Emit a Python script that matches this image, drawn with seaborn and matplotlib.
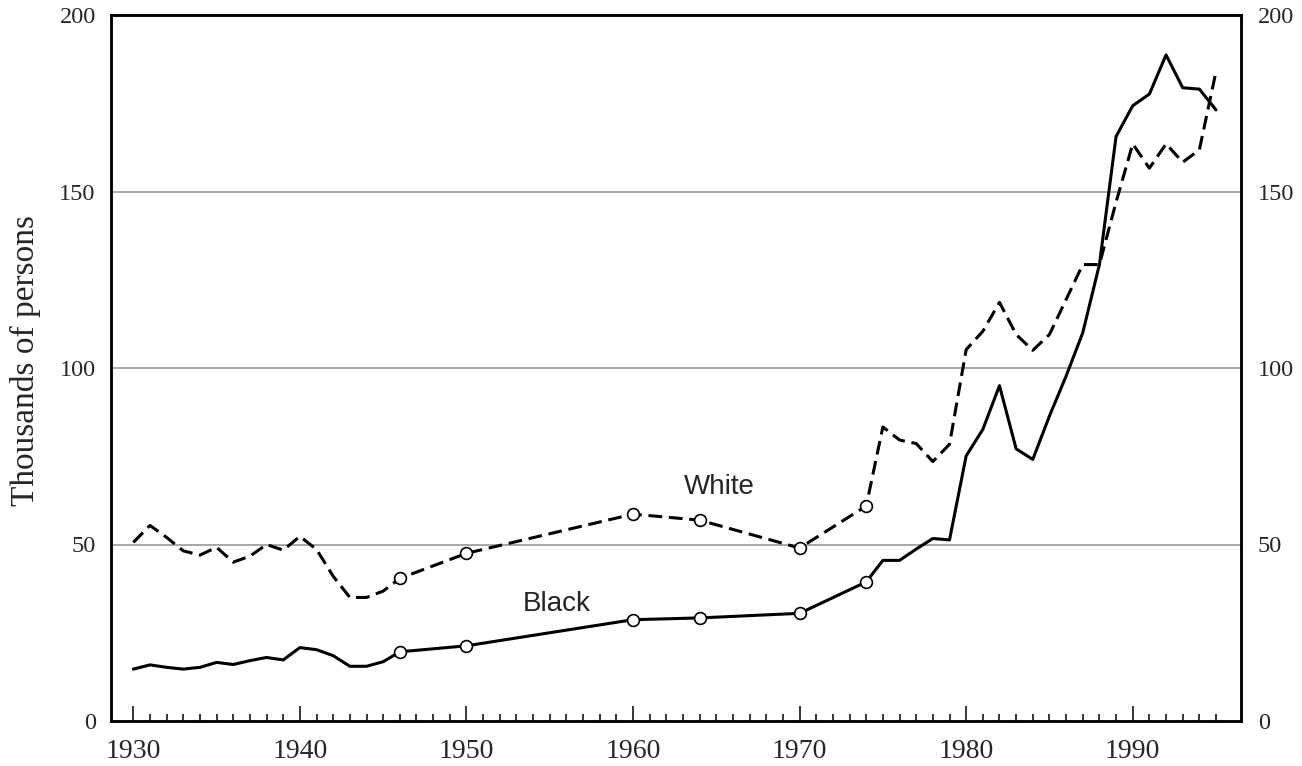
import numpy as np
import pandas as pd
import matplotlib
matplotlib.use("Agg")
import matplotlib.pyplot as plt
import seaborn as sns
from matplotlib.ticker import FixedLocator

# Số liệu (nghìn người)
years = [1930, 1931, 1932, 1933, 1934, 1935, 1936, 1937, 1938, 1939,
         1940, 1941, 1942, 1943, 1944, 1945, 1946, 1950, 1960, 1964,
         1970, 1974, 1975, 1976, 1977, 1978, 1979, 1980, 1981, 1982,
         1983, 1984, 1985, 1986, 1987, 1988, 1989, 1990, 1991, 1992,
         1993, 1994, 1995]
black = [14.7, 15.9, 15.2, 14.7, 15.2, 16.6, 16.0, 17.1, 18.0, 17.3,
         20.8, 20.2, 18.5, 15.5, 15.5, 16.8, 19.6, 21.3, 28.7, 29.2,
         30.5, 39.4, 45.5, 45.5, 48.7, 51.7, 51.3, 75.1, 82.6, 95.0,
         77.1, 74.1, 86.4, 97.7, 110.0, 129.3, 165.6, 174.3, 177.6, 188.7,
         179.4, 179.0, 173.1]
white = [50.6, 55.4, 52.0, 48.2, 47.0, 49.2, 45.0, 46.7, 50.0, 48.4,
         52.3, 48.6, 41.0, 35.0, 35.0, 36.8, 40.4, 47.5, 58.6, 56.9,
         49.0, 60.9, 83.3, 79.6, 78.6, 73.5, 78.4, 105.2, 110.4, 118.6,
         109.5, 105.0, 109.5, 119.4, 129.3, 129.3, 147.0, 163.5, 156.6, 163.5,
         158.3, 161.8, 184.0]
marker_years = [1946, 1950, 1960, 1964, 1970, 1974]
y_ticks = [0, 50, 100, 150, 200]
x_ticks = [1930, 1940, 1950, 1960, 1970, 1980, 1990]

df = pd.DataFrame({"year": years, "Black": black, "White": white})
pts = df[df["year"].isin(marker_years)]

sns.set_theme(style="white")
plt.rcParams["font.family"] = ["Liberation Serif", "DejaVu Serif"]

fig = plt.figure(figsize=(13.02, 7.66), dpi=100)
ax = fig.add_axes([111 / 1302, 1 - 721 / 766, 1130 / 1302, 706 / 766])

# đường lưới ngang
for v in [50, 100, 150]:
    ax.axhline(v, color="#a0a0a0", lw=1.3, zorder=1)

sns.lineplot(data=df, x="year", y="White", ax=ax, color="black", lw=2.2,
             linestyle=(0, (4.5, 2.2)), estimator=None, zorder=2)
sns.lineplot(data=df, x="year", y="Black", ax=ax, color="black", lw=2.2,
             estimator=None, zorder=2)

for col in ["White", "Black"]:
    sns.scatterplot(data=pts, x="year", y=col, ax=ax, s=72, marker="o",
                    facecolor="white", edgecolor="black", linewidth=1.2,
                    zorder=3)

ax.text(1965.2, 66.2, "White", fontsize=20, family="Liberation Sans",
        ha="center", va="center")
ax.text(1955.4, 33.1, "Black", fontsize=20, family="Liberation Sans",
        ha="center", va="center")

# nhãn trục phải
ax2 = ax.twinx()
ax2.set_ylim(0, 200)
ax2.set_yticks(y_ticks)
ax2.tick_params(axis="y", left=False, right=False, labelleft=False,
                labelright=True, labelsize=17.5, pad=6)
ax2.grid(False)

ax.set_xlim(1928.66, 1996.5)
ax.set_ylim(0, 200)
ax.set_xticks(x_ticks)
ax.xaxis.set_minor_locator(FixedLocator([y for y in range(1930, 1996) if y % 10]))
ax.set_yticks(y_ticks)
ax.tick_params(axis="x", which="major", direction="in", length=10.5, width=1.1,
               color="black", labelsize=20, pad=13, bottom=True)
ax.tick_params(axis="x", which="minor", direction="in", length=5, width=1.1,
               color="black", bottom=True)
ax.tick_params(axis="y", which="both", left=False, right=False, labelleft=True,
               labelright=False, labelsize=17.5, pad=5)

for a in (ax, ax2):
    for s in a.spines.values():
        s.set_color("black")
        s.set_linewidth(1.8)

ax.set_xlabel("")
ax.set_ylabel("Thousands of persons", fontsize=24)
ax.yaxis.set_label_coords(-0.062, 0.51)

fig.savefig("out.png", dpi=100)
